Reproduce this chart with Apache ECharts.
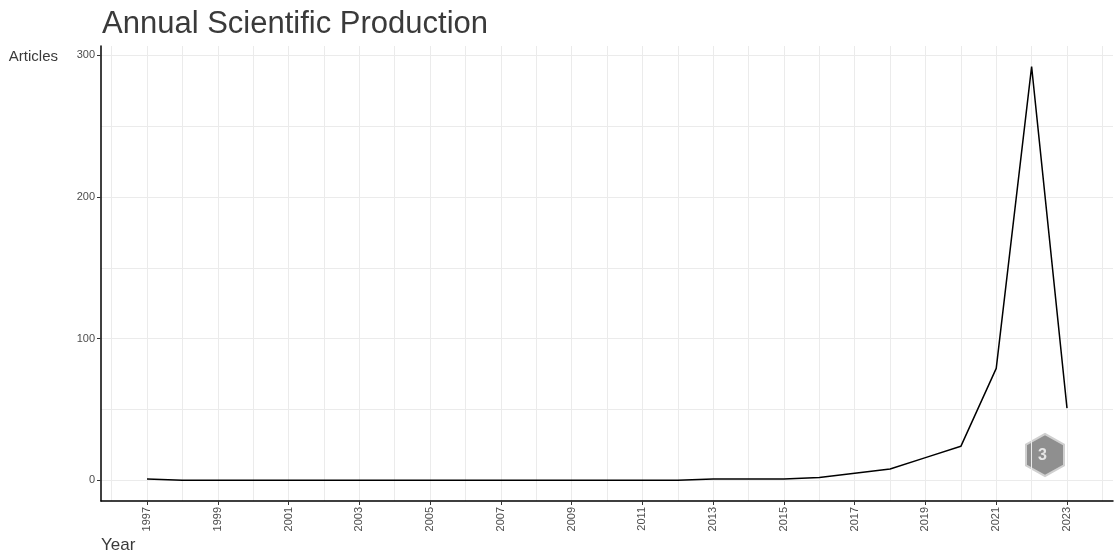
<!DOCTYPE html>
<html>
  <head>
    <meta charset="utf-8" />
    <title>Annual Scientific Production</title>
    <script src="https://cdn.jsdelivr.net/npm/echarts@6/dist/echarts.min.js"></script>
  </head>
  <body style="margin:0;">
    <div id="container" style="width:1115px;height:555px;"></div>
    <script type="text/javascript">
    // data
    var years = [1997, 1998, 1999, 2000, 2001, 2002, 2003, 2004, 2005, 2006, 2007, 2008, 2009, 2010,
                 2011, 2012, 2013, 2014, 2015, 2016, 2017, 2018, 2019, 2020, 2021, 2022, 2023];
    var articles = [1, 0, 0, 0, 0, 0, 0, 0, 0, 0, 0, 0, 0, 0,
                    0, 0, 1, 1, 1, 2, 5, 8, 16, 24, 79, 292, 51];
    var xLabelYears = [1997, 1999, 2001, 2003, 2005, 2007, 2009, 2011, 2013, 2015, 2017, 2019, 2021, 2023];
    var xGridYears = [1996, 1997, 1998, 1999, 2000, 2001, 2002, 2003, 2004, 2005, 2006, 2007, 2008, 2009, 2010,
                      2011, 2012, 2013, 2014, 2015, 2016, 2017, 2018, 2019, 2020, 2021, 2022, 2023, 2024];
    var yLabelValues = [0, 100, 200, 300];
    var yGridValues = [0, 50, 100, 150, 200, 250, 300];

    var myChart = echarts.init(document.getElementById('container'));

    // ggplot-like 5% expansion
    var xMin = 1995.7, xMax = 2024.3;
    var yMin = -14.6, yMax = 306.6;

    var gridColor = '#ebebeb';
    var labelColor = '#4d4d4d';

    var option = {
      backgroundColor: '#ffffff',
      animation: false,
      textStyle: { fontFamily: 'Liberation Sans, Arial, sans-serif' },
      title: {
        text: 'Annual Scientific Production',
        left: 97,
        top: 4,
        textStyle: { fontSize: 31, fontWeight: 'normal', color: '#3a3a3a' }
      },
      grid: { left: 101, right: 2, top: 46, bottom: 54 },
      xAxis: [
        {
          type: 'value',
          min: xMin,
          max: xMax,
          name: 'Year',
          nameLocation: 'start',
          nameGap: 0,
          nameTextStyle: { fontSize: 17, color: '#3a3a3a', align: 'left', verticalAlign: 'top', padding: [36, 0, 0, 0] },
          axisLine: { show: true, onZero: false, lineStyle: { color: '#000000', width: 1.5 } },
          axisTick: { show: true, customValues: xLabelYears, length: 4, lineStyle: { color: '#333333' } },
          axisLabel: { customValues: xLabelYears, rotate: 90, fontSize: 11, color: labelColor, margin: 6,
                       formatter: function (v) { return String(v); } },
          splitLine: { show: false }
        },
        {
          type: 'value',
          min: xMin,
          max: xMax,
          position: 'bottom',
          axisLine: { show: false, onZero: false },
          axisTick: { show: false, customValues: xGridYears },
          axisLabel: { show: false },
          splitLine: { show: true, lineStyle: { color: gridColor, width: 1 } }
        }
      ],
      yAxis: [
        {
          type: 'value',
          min: yMin,
          max: yMax,
          name: 'Articles',
          nameLocation: 'end',
          nameGap: -11,
          nameTextStyle: { fontSize: 15, color: '#3a3a3a', align: 'right', verticalAlign: 'middle', padding: [0, 43, 0, 0] },
          axisLine: { show: true, onZero: false, lineStyle: { color: '#000000', width: 1.5 } },
          axisTick: { show: true, customValues: yLabelValues, length: 4, lineStyle: { color: '#333333' } },
          axisLabel: { customValues: yLabelValues, fontSize: 11, color: labelColor, margin: 6 },
          splitLine: { show: false }
        },
        {
          type: 'value',
          min: yMin,
          max: yMax,
          position: 'left',
          axisLine: { show: false, onZero: false },
          axisTick: { show: false, customValues: yGridValues },
          axisLabel: { show: false },
          splitLine: { show: true, lineStyle: { color: gridColor, width: 1 } }
        }
      ],
      series: [
        {
          type: 'line',
          xAxisIndex: 0,
          yAxisIndex: 0,
          data: years.map(function (y, i) { return [y, articles[i]]; }),
          showSymbol: false,
          symbol: 'none',
          lineStyle: { color: '#000000', width: 1.5 }
        }
      ],
      // bibliometrix-style logo watermark
      graphic: [
        {
          type: 'polygon',
          left: 1025,
          top: 433,
          shape: { points: [[19, 0], [38, 10.5], [38, 31.5], [19, 42], [0, 31.5], [0, 10.5]] },
          style: { fill: '#8f8f8f', stroke: '#d0d0d0', lineWidth: 2 }
        },
        {
          type: 'text',
          left: 1038,
          top: 448,
          style: { text: '\u0033', fill: '#e6e6e6', font: 'bold 16px Liberation Sans' }
        }
      ]
    };

    myChart.setOption(option);
    window.addEventListener('resize', myChart.resize);
    </script>
  </body>
</html>
